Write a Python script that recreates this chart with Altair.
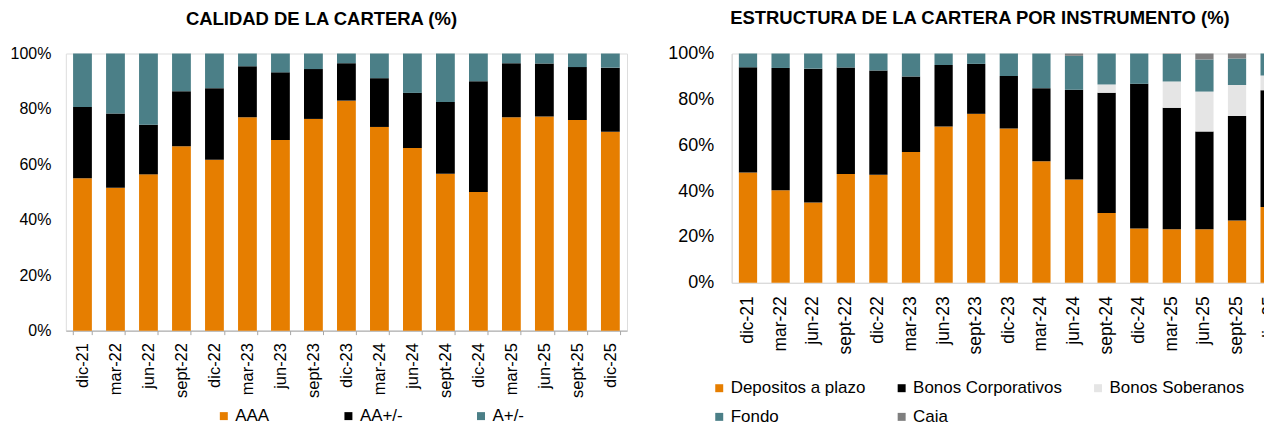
import altair as alt
import pandas as pd

periods = ["dic-21", "mar-22", "jun-22", "sept-22", "dic-22", "mar-23", "jun-23",
           "sept-23", "dic-23", "mar-24", "jun-24", "sept-24", "dic-24", "mar-25",
           "jun-25", "sept-25", "dic-25"]

# Calidad de la cartera (%)
aaa = [55.0, 51.6, 56.4, 66.5, 61.7, 77.0, 68.8, 76.4, 83.0, 73.5, 65.9, 56.6, 50.0, 77.0, 77.3, 76.0, 71.8]
aa = [25.7, 26.8, 17.9, 19.9, 25.8, 18.4, 24.4, 18.0, 13.5, 17.6, 19.9, 25.9, 40.0, 19.5, 19.1, 19.1, 23.1]
a = [19.3, 21.6, 25.7, 13.6, 12.5, 4.6, 6.8, 5.6, 3.5, 8.9, 14.2, 17.5, 10.0, 3.5, 3.6, 4.9, 5.1]

# Estructura de la cartera por instrumento (%)
depositos = [48.1, 40.4, 35.0, 47.4, 47.1, 57.1, 68.2, 73.7, 67.3, 53.0, 45.1, 30.4, 23.7, 23.4, 23.4, 27.2, 33.1]
corporativos = [45.9, 53.3, 58.4, 46.5, 45.5, 32.9, 26.8, 21.8, 22.9, 31.9, 39.1, 52.5, 63.1, 52.9, 42.6, 45.5, 50.9]
soberanos = [0, 0, 0, 0, 0, 0, 0, 0, 0, 0, 0, 3.6, 0, 11.5, 17.4, 13.6, 6.4]
fondo = [6.0, 6.3, 6.6, 6.1, 7.4, 10.0, 5.0, 4.5, 9.8, 15.1, 14.8, 13.5, 13.2, 12.0, 14.0, 11.5, 9.6]
caja = [0, 0, 0, 0, 0, 0, 0, 0, 0, 0, 1.0, 0, 0, 0.2, 2.6, 2.2, 0]

q_names = ["AAA", "AA+/-", "A+/-"]
q_colors = ["#E67E00", "#000000", "#4B7F87"]
i_names = ["Depositos a plazo", "Bonos Corporativos", "Bonos Soberanos", "Fondo", "Caia"]
i_colors = ["#E67E00", "#000000", "#E5E5E5", "#4B7F87", "#7F7F7F"]

FONT = "Liberation Sans"

rows = []
for k, (name, vals) in enumerate(zip(q_names, [aaa, aa, a])):
    for p, v in zip(periods, vals):
        rows.append({"periodo": p, "serie": name, "valor": v, "ord": k})
dq = pd.DataFrame(rows)

rows = []
for k, (name, vals) in enumerate(zip(i_names, [depositos, corporativos, soberanos, fondo, caja])):
    for p, v in zip(periods, vals):
        rows.append({"periodo": p, "serie": name, "valor": v, "ord": k})
di = pd.DataFrame(rows)

LW, LH = 563, 278
RW, RH = 556, 230

left = alt.Chart(dq, title=alt.Title(
    "CALIDAD DE LA CARTERA (%)", font=FONT, fontSize=18.5, fontWeight="bold",
    color="#000000", offset=17, frame="group", anchor="middle", dx=-25)
).mark_bar().encode(
    x=alt.X("periodo:N", sort=periods, title=None,
            scale=alt.Scale(paddingInner=0.43, paddingOuter=0.22),
            axis=alt.Axis(labelAngle=270, labelFont=FONT, labelFontSize=16.5, labelColor="#000000",
                          tickBand="extent", ticks=True, tickSize=4, tickColor="#A6A6A6",
                          domainColor="#A6A6A6", labelPadding=8)),
    y=alt.Y("valor:Q", stack="zero", title=None,
            scale=alt.Scale(domain=[0, 100], nice=False),
            axis=alt.Axis(values=[0, 20, 40, 60, 80, 100], labelExpr="datum.value + '%'",
                          grid=False, domain=False, ticks=False, labelFont=FONT,
                          labelFontSize=16, labelColor="#000000", labelPadding=15,
                          minExtent=57, maxExtent=57)),
    color=alt.Color("serie:N", scale=alt.Scale(domain=q_names, range=q_colors),
                    legend=alt.Legend(title=None, orient="none", legendX=150, legendY=355,
                                      direction="horizontal", symbolType="square",
                                      symbolSize=64, symbolStrokeWidth=0, labelFont=FONT,
                                      labelFontSize=17, labelColor="#000000",
                                      columnPadding=70, labelOffset=3)),
    order=alt.Order("ord:Q"),
).properties(width=LW, height=LH)

right = alt.Chart(di, title=alt.Title(
    "ESTRUCTURA DE LA CARTERA POR INSTRUMENTO (%)", font=FONT, fontSize=18.5, fontWeight="bold",
    color="#000000", offset=17, frame="group", anchor="middle", dx=-29)
).mark_bar().encode(
    x=alt.X("periodo:N", sort=periods, title=None,
            scale=alt.Scale(paddingInner=0.44, paddingOuter=0.22),
            axis=alt.Axis(labelAngle=270, labelFont=FONT, labelFontSize=17.5, labelColor="#000000",
                          ticks=False, domain=True, domainColor="#D9D9D9", labelPadding=13)),
    y=alt.Y("valor:Q", stack="zero", title=None,
            scale=alt.Scale(domain=[0, 100], nice=False),
            axis=alt.Axis(values=[0, 20, 40, 60, 80, 100], labelExpr="datum.value + '%'",
                          grid=False, domain=True, domainColor="#D9D9D9", ticks=False,
                          labelFont=FONT, labelFontSize=18, labelColor="#000000",
                          labelPadding=18, minExtent=64, maxExtent=64)),
    color=alt.Color("serie:N", scale=alt.Scale(domain=i_names, range=i_colors),
                    legend=alt.Legend(title=None, orient="none", legendX=-21, legendY=327,
                                      direction="horizontal", columns=3,
                                      symbolType="square", symbolSize=64, symbolStrokeWidth=0,
                                      labelFont=FONT, labelFontSize=17, labelColor="#000000",
                                      columnPadding=27, rowPadding=11, labelOffset=3,
                                      labelLimit=300)),
    order=alt.Order("ord:Q"),
).properties(width=RW, height=RH)

chart = alt.hconcat(left, right, spacing=39).resolve_scale(color="independent").properties(
    padding={"left": 0, "top": 0, "right": -23, "bottom": -2}
).configure_view(stroke=None).configure(background="#FFFFFF")

chart.save("out.html", embed_options={"renderer": "svg", "actions": False})
